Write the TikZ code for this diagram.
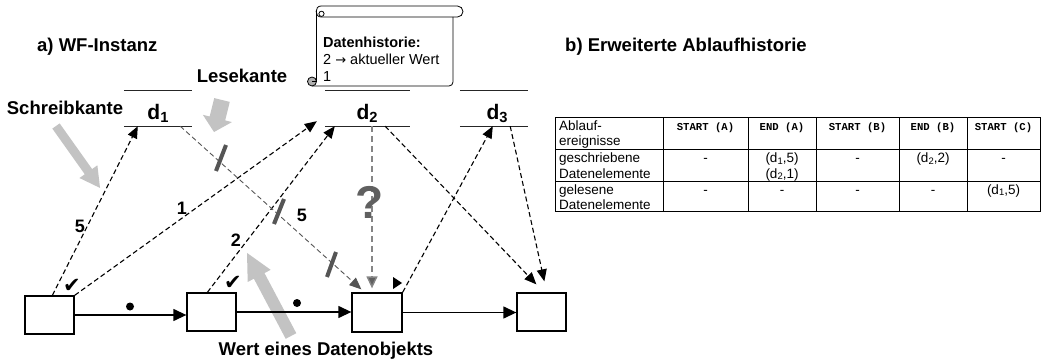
\documentclass[tikz,border=0pt]{standalone}
\usepackage{fontspec}
\usepackage{graphicx}
\setmainfont{Liberation Sans}
\newfontfamily\tabmono{Liberation Mono}
\newfontfamily\glyphfont{DejaVu Sans}
\usetikzlibrary{arrows.meta}

\newcommand{\pxsize}[1]{\fontsize{#1}{#1}\selectfont}
\newcommand{\lowidx}[1]{\raisebox{-0.28ex}{\scalebox{0.7}{#1}}}
% block arrow: tail x, tail y, angle, length, shaft width, head width, head length
\newcommand{\blockarrow}[7]{%
  \fill[blockgray, shift={(#1,#2)}, rotate=#3]
    (0,{-#5/2}) -- ({#4-#7},{-#5/2}) -- ({#4-#7},{-#6/2}) -- (#4,0)
    -- ({#4-#7},{#6/2}) -- ({#4-#7},{#5/2}) -- (0,{#5/2}) -- cycle;}

\definecolor{blockgray}{HTML}{C3C3C3}
\definecolor{strikegray}{HTML}{555555}
\definecolor{readdark}{HTML}{555555}
\definecolor{readlight}{HTML}{858585}
\definecolor{qgray}{HTML}{606060}
\definecolor{curlgray}{HTML}{B0B0B0}

\tikzset{
  task/.style={draw, line width=1.3pt, minimum width=49pt, minimum height=38pt, inner sep=0pt},
  dataslot/.style={minimum width=68pt, minimum height=35pt, inner sep=0pt},
  slotline/.style={line width=1.4pt, draw=black!85},
  dlabel/.style={font=\pxsize{21}\bfseries, inner sep=0pt},
  lbl/.style={font=\pxsize{18.5}\bfseries, inner sep=0pt},
  num/.style={font=\pxsize{18}\bfseries, inner sep=0pt},
  flow/.style={line width=1.3pt, -{Triangle[length=13pt,width=12pt]}},
  write/.style={line width=1.1pt, dash pattern=on 5pt off 3pt, -{Triangle[length=12pt,width=10pt]}},
  readblack/.style={line width=1.1pt, dash pattern=on 5pt off 3pt, -{Triangle[length=12pt,width=10pt]}},
  readstrike/.style={line width=0.9pt, draw=readdark, dash pattern=on 5pt off 3pt,
    -{Triangle[length=12pt,width=10pt,fill=readdark]}},
  readquery/.style={line width=1.4pt, draw=readlight, dash pattern=on 6pt off 4pt,
    -{Triangle[length=12pt,width=11pt,fill=qgray]}},
  strike/.style={line width=4pt, draw=strikegray},
  histtext/.style={font=\pxsize{14.5}, inner sep=0pt, anchor=base west},
  celltext/.style={font=\pxsize{13.5}, inner sep=0pt, anchor=base},
  cellhead/.style={font=\tabmono\bfseries\pxsize{10.6}, inner sep=0pt, anchor=base},
  tabline/.style={line width=0.9pt},
  check/.style={font=\glyphfont\pxsize{21}, inner sep=0pt},
}

\begin{document}
\begin{tikzpicture}[x=1pt, y=-1pt]
\useasboundingbox (0,0) rectangle (1042,361);

% ---------- titles and annotations ----------
\node[lbl, anchor=base west] (titleA) at (37,52) {a) WF-Instanz};
\node[lbl, anchor=base west] (titleB) at (565,52) {b) Erweiterte Ablaufhistorie};
\node[lbl, anchor=base] (lese) at (242,83) {Lesekante};
\node[lbl, anchor=base] (schreib) at (65,114) {Schreibkante};
\node[lbl, anchor=base] (wert) at (326,355) {Wert eines Datenobjekts};

% ---------- grey pointer arrows ----------
\blockarrow{56}{126}{-54.6}{76}{9}{22}{20}
\blockarrow{222}{100}{-104}{33}{16}{30}{14}
\blockarrow{291}{336}{117.9}{94}{12}{26}{26}

% ---------- data history scroll ----------
\draw[line width=0.8pt, rounded corners=5.5pt] (321,6) -- (463,6) -- (463,17) -- (321,17);
\draw[line width=0.8pt] (321,6) .. controls (314.5,6) and (314.5,17) .. (321,17);
\draw[line width=0.8pt] (321.5,13.8) circle[radius=2.6];
\draw[line width=0.8pt] (316.5,11.5) -- (316.5,81);
\draw[line width=0.8pt, rounded corners=4pt] (453,17) -- (453,86) -- (312,86);
\filldraw[line width=0.8pt, fill=curlgray] (312,81.5) circle[radius=4.5];
\draw[line width=0.8pt] (312,81.5) -- (316.5,81.5);
\node[histtext, font=\pxsize{14.5}\bfseries] (hist1) at (323,48) {Datenhistorie:};
\node[histtext] (hist2) at (323,65) {2 {\glyphfont\pxsize{13}→} aktueller Wert};
\node[histtext] (hist3) at (323,81.5) {1};

% ---------- data elements ----------
\node[dataslot] (d1) at (158,108.5) {};
\node[dataslot, minimum width=85pt] (d2) at (367.5,108.5) {};
\node[dataslot] (d3) at (494,108.5) {};
\foreach \n in {d1,d2,d3} {
  \draw[slotline] (\n.north west) -- (\n.north east);
  \draw[slotline] (\n.south west) -- (\n.south east);
}
\node[dlabel, anchor=base] (d1name) at (158,119) {d\lowidx{1}};
\node[dlabel, anchor=base] (d2name) at (367,119) {d\lowidx{2}};
\node[dlabel, anchor=base] (d3name) at (497,119) {d\lowidx{3}};

% ---------- activities ----------
\node[task] (A) at (49.5,315) {};
\node[task] (B) at (211.5,312) {};
\node[task, minimum width=50pt, minimum height=39pt] (C) at (377,312.5) {};
\node[task] (D) at (541.5,312) {};

% control flow
\draw[flow] (A.east) -- (A.east -| B.west);
\draw[flow] (B.east) -- (B.east -| C.west);
\draw[flow] (C.east) -- (C.east -| D.west);
\fill (130,306.5) circle[radius=4];
\fill (297,303) circle[radius=4];

% completed activities
\node[check] (chkA) at (72,286) {✔};
\node[check] (chkB) at (233,283) {✔};
\fill (393,277) -- (393,289) -- (402,283) -- cycle;

% ---------- write edges ----------
\draw[write] ([xshift=28pt]A.north west) -- ([xshift=14pt]d1.south west);
\draw[write] (A.north east) -- ([xshift=-8pt,yshift=5pt]d2.south west);
\draw[write] ([xshift=21pt]B.north west) -- ([xshift=10pt]d2.south west);
\draw[write] (C.north east) -- ([xshift=33pt]d3.south west);

% ---------- read edges ----------
\draw[readstrike] ([xshift=-12pt]d1.south east) -- ([xshift=10pt,yshift=3pt]C.north west);
\draw[readquery] ([xshift=4.5pt]d2.south) -- ([xshift=-5pt,yshift=4pt]C.north);
\draw[readblack] ([xshift=-25pt]d2.south east) -- ([xshift=20pt,yshift=8pt]D.north west);
\draw[readblack] ([xshift=-18pt]d3.south east) -- ([xshift=28pt,yshift=11pt]D.north west);

% invalidated values
\draw[strike] (216,171) -- (226,145);
\draw[strike] (274,224) -- (284,199);
\draw[strike] (327,277) -- (336,252);

% version numbers
\node[num] (v5a) at (80,226) {5};
\node[num] (v1) at (182,208) {1};
\node[num] (v2) at (236,240) {2};
\node[num] (v5b) at (302,215) {5};
\node[font=\pxsize{46}\bfseries, text=qgray, inner sep=0pt] (query) at (370,202) {?};

% ---------- execution history table ----------
\draw[tabline] (555,117) rectangle (1040,211);
\draw[tabline] (555,149) -- (1040,149);
\draw[tabline] (555,181) -- (1040,181);
\foreach \cx in {663,748,816,899,967} { \draw[tabline] (\cx,117) -- (\cx,211); }

\node[celltext, anchor=base west] (h1a) at (559,130) {Ablauf-};
\node[celltext, anchor=base west] (h1b) at (559,145.5) {ereignisse};
\node[celltext, anchor=base west] (h2a) at (559,162.5) {geschriebene};
\node[celltext, anchor=base west] (h2b) at (559,178) {Datenelemente};
\node[celltext, anchor=base west] (h3a) at (559,194) {gelesene};
\node[celltext, anchor=base west] (h3b) at (559,209.5) {Datenelemente};

\node[cellhead] (e1) at (705.5,130.5) {START (A)};
\node[cellhead] (e2) at (782,130.5) {END (A)};
\node[cellhead] (e3) at (857.5,130.5) {START (B)};
\node[cellhead] (e4) at (933,130.5) {END (B)};
\node[cellhead] (e5) at (1003.5,130.5) {START (C)};

\node[celltext] (w1) at (705.5,162.5) {-};
\node[celltext] (w2a) at (782,162.5) {(d\lowidx{1},5)};
\node[celltext] (w2b) at (782,178) {(d\lowidx{2},1)};
\node[celltext] (w3) at (857.5,162.5) {-};
\node[celltext] (w4) at (933,162.5) {(d\lowidx{2},2)};
\node[celltext] (w5) at (1003.5,162.5) {-};

\node[celltext] (r1) at (705.5,194) {-};
\node[celltext] (r2) at (782,194) {-};
\node[celltext] (r3) at (857.5,194) {-};
\node[celltext] (r4) at (933,194) {-};
\node[celltext] (r5) at (1003.5,194) {(d\lowidx{1},5)};
\end{tikzpicture}
\end{document}
